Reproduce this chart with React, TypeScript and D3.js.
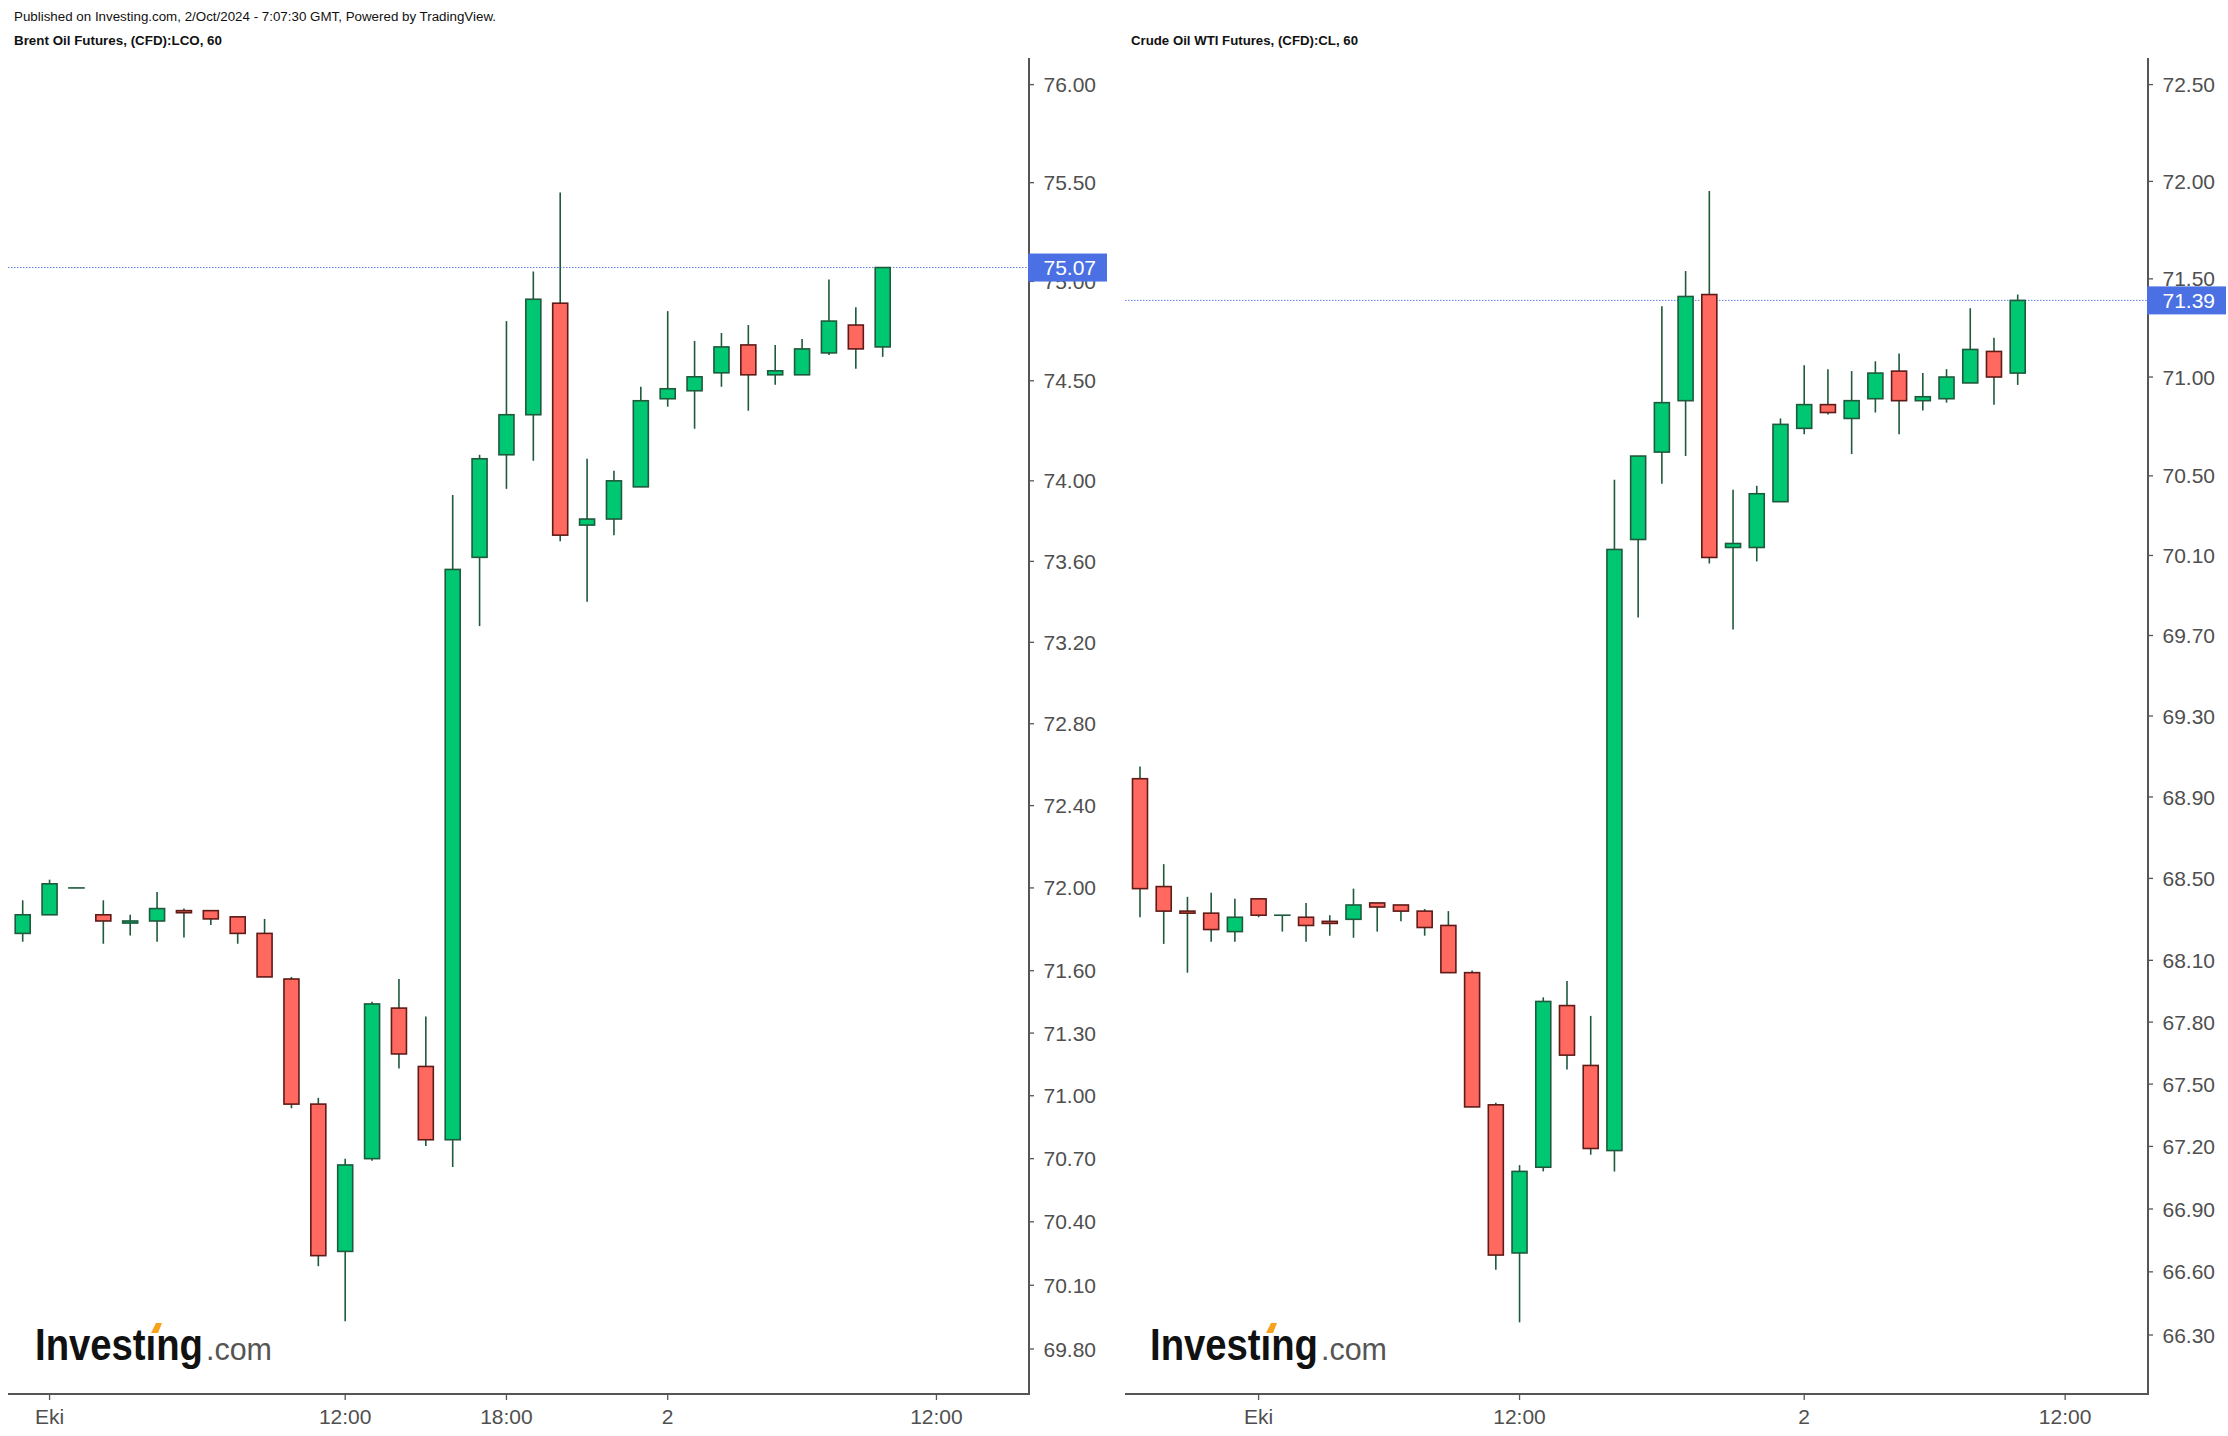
import * as d3 from 'd3';

const W = 2228;
const H = 1436;

const PUBLISHED = 'Published on Investing.com, 2/Oct/2024 - 7:07:30 GMT, Powered by TradingView.';

// Brent Oil Futures, (CFD):LCO, hourly candles
const brentTitle = 'Brent Oil Futures, (CFD):LCO, 60';
const brentOpen = [71.78, 71.87, 72.0, 71.87, 71.83, 71.84, 71.89, 71.89, 71.86, 71.78, 71.56, 70.96, 70.26, 70.7, 71.42, 71.14, 70.79, 73.62, 74.13, 74.33, 74.89, 73.78, 73.81, 73.97, 74.41, 74.45, 74.54, 74.68, 74.53, 74.53, 74.64, 74.78, 74.67];
const brentHigh = [71.94, 72.04, 72.0, 71.94, 71.87, 71.98, 71.9, 71.89, 71.86, 71.85, 71.57, 70.99, 70.7, 71.45, 71.56, 71.38, 73.93, 74.13, 74.8, 75.05, 75.45, 74.11, 74.05, 74.47, 74.85, 74.7, 74.74, 74.78, 74.68, 74.71, 75.01, 74.87, 75.07];
const brentLow = [71.74, 71.87, 72.0, 71.73, 71.77, 71.74, 71.76, 71.82, 71.73, 71.57, 70.94, 70.19, 69.93, 70.69, 71.13, 70.76, 70.66, 73.28, 73.96, 74.1, 73.7, 73.4, 73.73, 73.97, 74.37, 74.26, 74.47, 74.35, 74.48, 74.53, 74.63, 74.56, 74.62];
const brentClose = [71.87, 72.02, 72.0, 71.84, 71.84, 71.9, 71.88, 71.85, 71.78, 71.57, 70.96, 70.24, 70.67, 71.44, 71.2, 70.79, 73.56, 74.11, 74.33, 74.91, 73.73, 73.81, 74.0, 74.4, 74.46, 74.52, 74.67, 74.53, 74.55, 74.66, 74.8, 74.66, 75.07];
const brentYTicks = [76.0, 75.5, 75.0, 74.5, 74.0, 73.6, 73.2, 72.8, 72.4, 72.0, 71.6, 71.3, 71.0, 70.7, 70.4, 70.1, 69.8];
const brentXTickIdx = [1, 12, 18, 24, 34];
const brentXTickLabels = ['Eki', '12:00', '18:00', '2', '12:00'];
const brentLast = 75.07;

// Crude Oil WTI Futures, (CFD):CL, hourly candles
const wtiTitle = 'Crude Oil WTI Futures, (CFD):CL, 60';
const wtiOpen = [68.99, 68.46, 68.34, 68.33, 68.24, 68.4, 68.32, 68.31, 68.29, 68.3, 68.38, 68.37, 68.34, 68.27, 68.04, 67.4, 66.69, 67.1, 67.88, 67.59, 67.18, 70.18, 70.62, 70.88, 71.42, 70.14, 70.14, 70.37, 70.74, 70.86, 70.79, 70.89, 71.03, 70.88, 70.89, 70.97, 71.13, 71.02];
const wtiHigh = [69.05, 68.57, 68.41, 68.43, 68.4, 68.4, 68.32, 68.38, 68.32, 68.45, 68.38, 68.37, 68.35, 68.34, 68.05, 67.41, 67.11, 67.92, 68.0, 67.83, 70.48, 70.6, 71.36, 71.54, 71.95, 70.43, 70.45, 70.79, 71.06, 71.04, 71.03, 71.08, 71.12, 71.02, 71.04, 71.35, 71.2, 71.42];
const wtiLow = [68.31, 68.18, 68.04, 68.19, 68.19, 68.31, 68.24, 68.19, 68.22, 68.21, 68.24, 68.29, 68.22, 68.04, 67.39, 66.61, 66.36, 67.08, 67.57, 67.16, 67.08, 69.79, 70.46, 70.6, 70.06, 69.73, 70.07, 70.37, 70.71, 70.81, 70.61, 70.82, 70.71, 70.83, 70.87, 70.97, 70.86, 70.96];
const wtiClose = [68.45, 68.34, 68.33, 68.25, 68.31, 68.32, 68.32, 68.27, 68.28, 68.37, 68.36, 68.34, 68.26, 68.04, 67.39, 66.68, 67.08, 67.9, 67.64, 67.19, 70.13, 70.6, 70.87, 71.41, 70.09, 70.16, 70.41, 70.76, 70.86, 70.82, 70.88, 71.02, 70.88, 70.9, 71.0, 71.14, 71.0, 71.39];
const wtiYTicks = [72.5, 72.0, 71.5, 71.0, 70.5, 70.1, 69.7, 69.3, 68.9, 68.5, 68.1, 67.8, 67.5, 67.2, 66.9, 66.6, 66.3];
const wtiXTickIdx = [5, 16, 28, 39];
const wtiXTickLabels = ['Eki', '12:00', '2', '12:00'];
const wtiLast = 71.39;

const FONT = 'Liberation Sans, Arial, Helvetica, sans-serif';
const AXIS = '#555555';
const LABEL = '#4f4f4f';
const UP_FILL = '#00c872';
const UP_STROKE = '#1e5a3b';
const DOWN_FILL = '#ff695f';
const DOWN_STROKE = '#5e1b17';
const WICK = '#1e5a3b';
const PRICE_BLUE = '#4a70e4';
const PRICE_LINE = '#5f7fe6';
const BODY_W = 15;
const TOP = 58;
const AXIS_Y = 1394;

interface PanelProps {
  title: string;
  titleX: number;
  titleW: number;
  open: number[];
  high: number[];
  low: number[];
  close: number[];
  yTicks: number[];
  xTickIdx: number[];
  xTickLabels: string[];
  last: number;
  left: number;
  axisX: number;
  xRange: [number, number];
  yRange: [number, number];
  logoX: number;
}

function Logo({ x }: { x: number }) {
  return (
    <g transform={`translate(${x},1360)`}>
      <text fontFamily={FONT}>
        <tspan
          fontWeight="bold"
          fontSize={44}
          fill="#111111"
          textLength={168}
          lengthAdjust="spacingAndGlyphs"
        >
          Investıng
        </tspan>
        <tspan
          dx={3}
          fontSize={31}
          fill="#555555"
          textLength={66}
          lengthAdjust="spacingAndGlyphs"
        >
          .com
        </tspan>
      </text>
      <path d="M116,-27 L121,-37 L127,-37 L123,-27 Z" fill="#f7a21b" />
    </g>
  );
}

function Panel(p: PanelProps) {
  const n = p.open.length;
  const x = d3.scaleLinear().domain([0, n - 1]).range(p.xRange);
  const y = d3
    .scaleLog()
    .domain([p.yTicks[p.yTicks.length - 1], p.yTicks[0]])
    .range(p.yRange);
  const lastY = y(p.last);

  return (
    <g>
      <text
        x={p.titleX}
        y={45}
        fontFamily={FONT}
        fontWeight="bold"
        fontSize={12}
        fill="#111111"
        textLength={p.titleW}
        lengthAdjust="spacingAndGlyphs"
      >
        {p.title}
      </text>

      {/* price line of the last close */}
      <line
        x1={p.left} x2={p.axisX} y1={lastY} y2={lastY}
        stroke={PRICE_LINE}
        strokeWidth={1}
        strokeDasharray="1.5,1.5"
      />

      {/* candles */}
      {p.open.map((o, i) => {
        const c = p.close[i];
        const up = c >= o;
        const cx = x(i);
        const yTop = y(Math.max(o, c));
        const yBot = y(Math.min(o, c));
        return (
          <g key={i}>
            <line
              x1={cx} x2={cx} y1={y(p.high[i])} y2={y(p.low[i])}
              stroke={WICK}
              strokeWidth={1.6}
            />
            <rect
              x={cx - BODY_W / 2}
              y={yTop}
              width={BODY_W}
              height={Math.max(yBot - yTop, 0.01)}
              fill={up ? UP_FILL : DOWN_FILL}
              stroke={up ? UP_STROKE : DOWN_STROKE}
              strokeWidth={1.6}
            />
          </g>
        );
      })}

      {/* y axis */}
      <line x1={p.axisX} x2={p.axisX} y1={TOP} y2={AXIS_Y + 1} stroke={AXIS} strokeWidth={2} />
      {p.yTicks.map((v) => (
        <g key={v}>
          <line x1={p.axisX} x2={p.axisX + 5} y1={y(v)} y2={y(v)} stroke={AXIS} strokeWidth={1.3} />
          <text
            x={p.axisX + 14.5}
            y={y(v)}
            dy="0.36em"
            fontFamily={FONT}
            fontSize={21}
            fill={LABEL}
          >
            {v.toFixed(2)}
          </text>
        </g>
      ))}

      {/* last price label, drawn over the tick label it hides */}
      <rect x={p.axisX - 1} y={lastY - 14} width={79} height={28} fill={PRICE_BLUE} />
      <text
        x={p.axisX + 14.5}
        y={lastY}
        dy="0.36em"
        fontFamily={FONT}
        fontSize={21}
        fill="#ffffff"
      >
        {p.last.toFixed(2)}
      </text>

      {/* x axis */}
      <line x1={p.left} x2={p.axisX + 1} y1={AXIS_Y} y2={AXIS_Y} stroke={AXIS} strokeWidth={2} />
      {p.xTickIdx.map((idx, k) => (
        <g key={k}>
          <line x1={x(idx)} x2={x(idx)} y1={AXIS_Y} y2={AXIS_Y + 6} stroke={AXIS} strokeWidth={1.3} />
          <text
            x={x(idx)}
            y={AXIS_Y + 30}
            textAnchor="middle"
            fontFamily={FONT}
            fontSize={21}
            fill={LABEL}
          >
            {p.xTickLabels[k]}
          </text>
        </g>
      ))}

      <Logo x={p.logoX} />
    </g>
  );
}

export default function App() {
  return (
    <svg
      width={W}
      height={H}
      viewBox={`0 0 ${W} ${H}`}
      style={{ position: 'absolute', left: 0, top: 0, background: '#ffffff', display: 'block' }}
    >
      <rect width={W} height={H} fill="#ffffff" />
      <text
        x={14}
        y={21}
        fontFamily={FONT}
        fontSize={12}
        fill="#111111"
        textLength={482}
        lengthAdjust="spacingAndGlyphs"
      >
        {PUBLISHED}
      </text>

      <Panel
        title={brentTitle}
        titleX={14}
        titleW={208}
        open={brentOpen}
        high={brentHigh}
        low={brentLow}
        close={brentClose}
        yTicks={brentYTicks}
        xTickIdx={brentXTickIdx}
        xTickLabels={brentXTickLabels}
        last={brentLast}
        left={8}
        axisX={1029}
        xRange={[22.7, 882.7]}
        yRange={[1349, 84.6]}
        logoX={35}
      />

      <Panel
        title={wtiTitle}
        titleX={1131}
        titleW={227}
        open={wtiOpen}
        high={wtiHigh}
        low={wtiLow}
        close={wtiClose}
        yTicks={wtiYTicks}
        xTickIdx={wtiXTickIdx}
        xTickLabels={wtiXTickLabels}
        last={wtiLast}
        left={1125}
        axisX={2148}
        xRange={[1140, 2017.7]}
        yRange={[1335, 84.6]}
        logoX={1150}
      />
    </svg>
  );
}
